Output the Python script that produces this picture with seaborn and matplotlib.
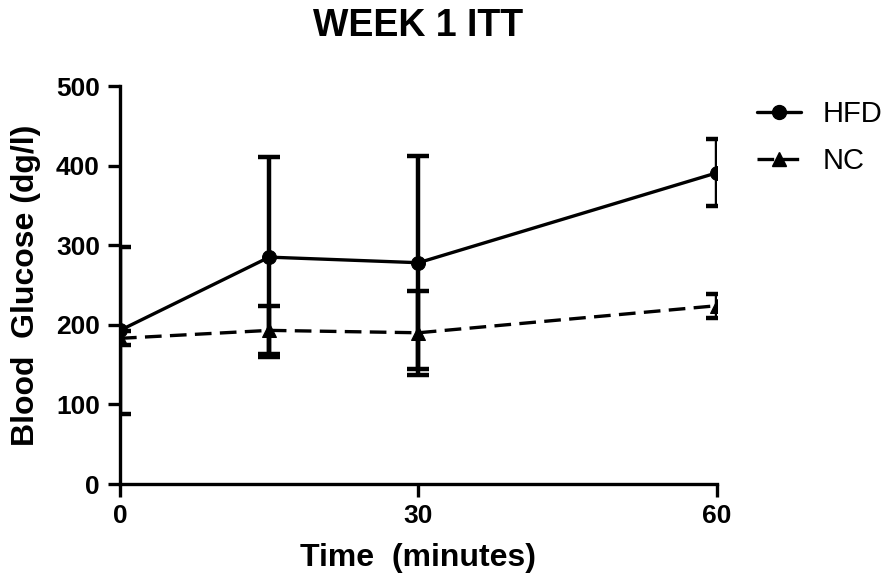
import matplotlib
matplotlib.use("Agg")
import matplotlib.pyplot as plt
import seaborn as sns
import pandas as pd
from matplotlib.lines import Line2D

# Insulin tolerance test, week 1: mean blood glucose with error bars
time_min = [0, 15, 30, 60]
hfd_mean = [193, 285, 278, 391]
hfd_err = [105, 126, 134, 42]
nc_mean = [183, 193, 190, 224]
nc_err = [9, 30, 53, 15]
groups = ["HFD", "NC"]
x_ticks = [0, 30, 60]
y_ticks = [0, 100, 200, 300, 400, 500]

sns.set_theme(style="ticks")
plt.rcParams["font.family"] = ["Liberation Sans", "DejaVu Sans"]
plt.rcParams["text.color"] = "black"
plt.rcParams["axes.labelcolor"] = "black"
plt.rcParams["xtick.color"] = "black"
plt.rcParams["ytick.color"] = "black"

df = pd.concat([
    pd.DataFrame({"time": time_min, "glucose": hfd_mean, "err": hfd_err, "group": groups[0]}),
    pd.DataFrame({"time": time_min, "glucose": nc_mean, "err": nc_err, "group": groups[1]}),
])

fig = plt.figure(figsize=(8.92, 5.78), dpi=100)
ax = fig.add_axes([120 / 892, 1 - 484 / 578, 597 / 892, 398 / 578])

dash = (0, (5, 2.5))
styles = {
    "HFD": dict(marker="o", ls="-", ms=10),
    "NC": dict(marker="^", ls=dash, ms=10),
}

for g in groups:
    d = df[df["group"] == g]
    st = styles[g]
    ax.errorbar(d["time"], d["glucose"], yerr=d["err"], fmt="none",
                ecolor="black", elinewidth=3.2, capsize=8, capthick=3.2, zorder=2)
    sns.lineplot(data=d, x="time", y="glucose", ax=ax, color="black",
                 linewidth=2.4, linestyle=st["ls"], marker=st["marker"],
                 markersize=st["ms"], markeredgecolor="black",
                 markerfacecolor="black", zorder=3, legend=False)

ax.set_xlim(0, 60)
ax.set_ylim(0, 500)
ax.set_xticks(x_ticks)
ax.set_yticks(y_ticks)
sns.despine(ax=ax)
for s in ["left", "bottom"]:
    ax.spines[s].set_linewidth(2.4)
    ax.spines[s].set_color("black")
ax.tick_params(axis="both", direction="out", length=9, width=2.4,
               labelsize=19, color="black", labelcolor="black", pad=5.5)
for lab in ax.get_xticklabels() + ax.get_yticklabels():
    lab.set_fontweight("bold")

ax.set_xlabel("Time  (minutes)", fontsize=23, fontweight="bold", labelpad=10.5)
ax.set_ylabel("Blood  Glucose (dg/l)", fontsize=23, fontweight="bold", labelpad=11)
ax.set_title("WEEK 1 ITT", fontsize=27, fontweight="bold", pad=36)

handles = [
    Line2D([], [], color="black", lw=2.4, ls="-", marker="o", ms=10),
    Line2D([], [], color="black", lw=2.4, ls=dash, marker="^", ms=10),
]
fig.legend(handles, groups, loc="upper left", bbox_to_anchor=(757 / 892, 1 - 100 / 578),
           frameon=False, fontsize=21, handlelength=1.5, handletextpad=0.75,
           labelspacing=0.65, borderpad=0, borderaxespad=0)

fig.savefig("out.png", dpi=100)
